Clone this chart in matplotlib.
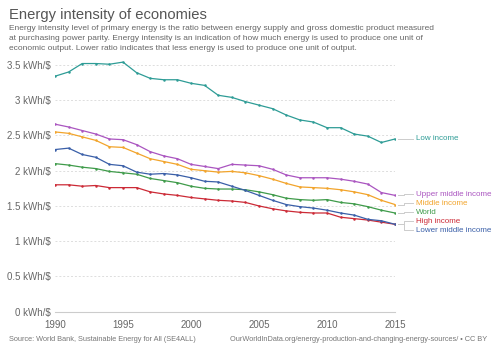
import numpy as np
import matplotlib
matplotlib.use("Agg")
import matplotlib.pyplot as plt
from matplotlib.ticker import FuncFormatter, MultipleLocator

plt.rcParams["font.family"] = ["Liberation Sans", "DejaVu Sans"]

years = list(range(1990, 2016))

low_income = [3.34, 3.40, 3.52, 3.52, 3.51, 3.54, 3.39, 3.31, 3.29, 3.29,
              3.24, 3.21, 3.07, 3.04, 2.98, 2.93, 2.88, 2.79, 2.72, 2.69,
              2.61, 2.61, 2.52, 2.49, 2.40, 2.45]
upper_middle = [2.66, 2.62, 2.57, 2.52, 2.45, 2.44, 2.37, 2.27, 2.21, 2.17,
                2.09, 2.06, 2.03, 2.09, 2.08, 2.07, 2.02, 1.94, 1.90, 1.90,
                1.90, 1.88, 1.85, 1.81, 1.69, 1.65]
middle = [2.55, 2.53, 2.48, 2.43, 2.34, 2.33, 2.25, 2.17, 2.13, 2.09,
          2.02, 2.00, 1.98, 1.99, 1.97, 1.93, 1.88, 1.82, 1.77, 1.76,
          1.75, 1.73, 1.70, 1.66, 1.58, 1.52]
world = [2.10, 2.08, 2.05, 2.03, 1.99, 1.97, 1.95, 1.89, 1.86, 1.83,
         1.78, 1.75, 1.74, 1.74, 1.73, 1.70, 1.66, 1.61, 1.59, 1.58,
         1.59, 1.55, 1.53, 1.49, 1.44, 1.40]
high_income = [1.80, 1.80, 1.78, 1.79, 1.76, 1.76, 1.76, 1.70, 1.67, 1.65,
               1.62, 1.60, 1.58, 1.57, 1.55, 1.50, 1.46, 1.43, 1.41, 1.40,
               1.40, 1.34, 1.32, 1.30, 1.27, 1.24]
lower_middle = [2.30, 2.32, 2.23, 2.19, 2.09, 2.07, 1.98, 1.95, 1.96, 1.94,
                1.90, 1.85, 1.84, 1.78, 1.72, 1.65, 1.58, 1.52, 1.49, 1.47,
                1.44, 1.40, 1.37, 1.31, 1.29, 1.24]

series = [
    ("Low income", low_income, "#2e9c96"),
    ("Upper middle income", upper_middle, "#aa55c0"),
    ("Middle income", middle, "#f2a42b"),
    ("World", world, "#3f9b4a"),
    ("High income", high_income, "#cc2a36"),
    ("Lower middle income", lower_middle, "#3a5fa8"),
]

fig = plt.figure(figsize=(5, 3.53), dpi=100)
ax = fig.add_axes([0.11, 0.117, 0.68, 0.719])

for name, vals, color in series:
    ax.plot(years, vals, color=color, linewidth=0.9, marker="o",
            markersize=1.8, markeredgewidth=0, zorder=3)

ax.set_xlim(1990, 2015)
ax.set_ylim(0, 3.6)
ax.yaxis.set_major_locator(MultipleLocator(0.5))
ax.xaxis.set_major_locator(MultipleLocator(5))
ax.yaxis.set_major_formatter(FuncFormatter(lambda v, p: f"{v:g} kWh/\\$"))
ax.tick_params(length=0, labelsize=7, colors="#666666", pad=3)
ax.tick_params(axis="x", pad=6)
ax.grid(axis="y", linestyle=(0, (2, 2)), color="#dddddd", linewidth=0.7)
for s in ["top", "right", "left"]:
    ax.spines[s].set_visible(False)
ax.spines["bottom"].set_color("#cccccc")

# end labels: low income on its own, the rest stacked around their mean
gap = 0.128
ends = {name: vals[-1] for name, vals, _ in series}
grouped = [s for s in series if s[0] != "Low income"]
center = np.mean([ends[s[0]] for s in grouped])
label_y = {"Low income": ends["Low income"]}
for i, (name, _, _) in enumerate(grouped):
    label_y[name] = center + gap * ((len(grouped) - 1) / 2 - i)

for name, vals, color in series:
    y0, y1 = vals[-1], label_y[name]
    ax.plot([2015.2, 2015.65, 2015.65, 2016.35], [y0, y0, y1, y1],
            color="#cccccc", linewidth=0.7, clip_on=False)
    ax.text(2016.55, y1, name, color=color, fontsize=5.8, va="center",
            ha="left", clip_on=False)

fig.text(0.018, 0.957, "Energy intensity of economies", fontsize=10.6,
         color="#555555", va="center")
fig.text(0.018, 0.891,
         "Energy intensity level of primary energy is the ratio between energy supply and gross domestic product measured\n"
         "at purchasing power parity. Energy intensity is an indication of how much energy is used to produce one unit of\n"
         "economic output. Lower ratio indicates that less energy is used to produce one unit of output.",
         fontsize=6.0, color="#666666", va="center", linespacing=1.55)
fig.text(0.018, 0.037, "Source: World Bank, Sustainable Energy for All (SE4ALL)",
         fontsize=5.3, color="#777777", va="center")
fig.text(0.974, 0.037,
         "OurWorldInData.org/energy-production-and-changing-energy-sources/ \u2022 CC BY",
         fontsize=5.3, color="#777777", va="center", ha="right")

fig.savefig("out.png", dpi=100, facecolor="white")
